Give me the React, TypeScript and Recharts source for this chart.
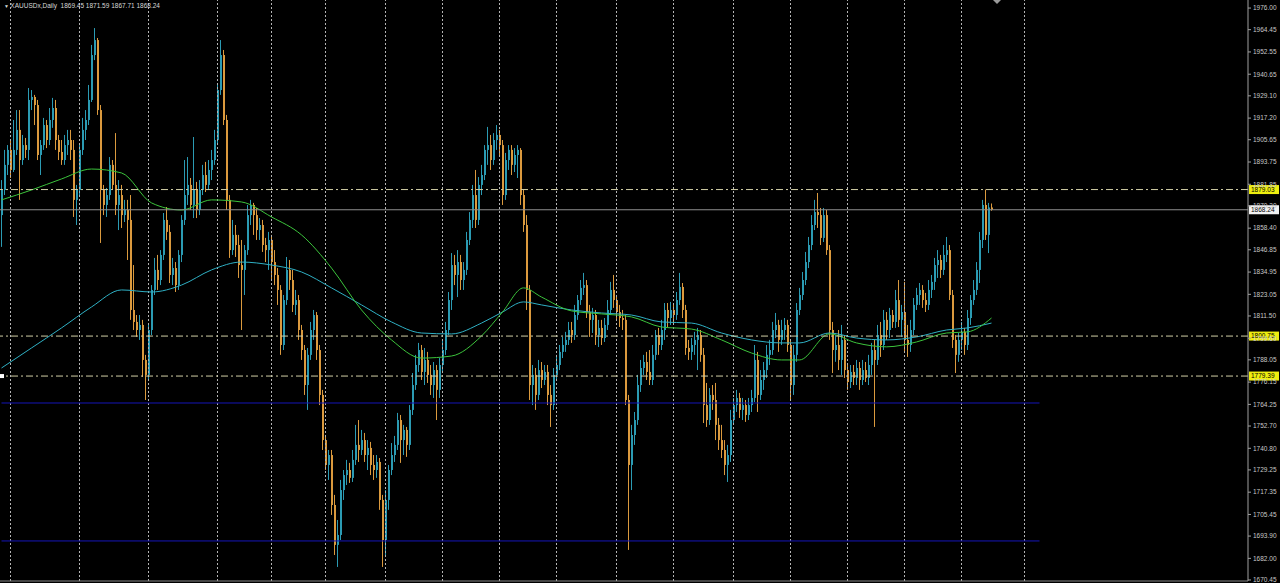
import React from 'react';
import { ComposedChart, Bar, Line, XAxis, YAxis, ReferenceLine } from 'recharts';

// ---------- data ----------
const closes = [
  1878.8, 1892.2, 1900.2, 1889.5, 1900.2, 1910.9, 1894.8, 1902.8, 1900.2, 1926.9,
  1928.5, 1924.2, 1897.5, 1902.8, 1913.5, 1905.5, 1916.2, 1922.6, 1905.5, 1899.1,
  1894.8, 1902.8, 1905.5, 1900.2, 1873.5, 1878.8, 1900.2, 1910.9, 1916.2, 1926.9,
  1950.9, 1958.9, 1921.5, 1878.8, 1870.8, 1876.1, 1892.2, 1881.5, 1870.8, 1876.1,
  1865.4, 1868.1, 1862.8, 1814.7, 1808.3, 1804.0, 1806.7, 1788.0, 1780.0, 1804.0,
  1825.4, 1836.1, 1830.7, 1844.1, 1862.8, 1856.4, 1833.4, 1837.1, 1828.0, 1844.1,
  1862.8, 1876.1, 1881.5, 1870.8, 1878.8, 1868.1, 1878.8, 1886.8, 1881.5, 1889.5,
  1894.8, 1905.5, 1932.2, 1950.9, 1916.2, 1873.5, 1846.7, 1854.8, 1849.4, 1838.7,
  1836.1, 1846.7, 1865.4, 1870.8, 1865.4, 1857.4, 1860.1, 1849.4, 1846.7, 1852.1,
  1840.3, 1833.4, 1825.4, 1796.0, 1820.0, 1836.1, 1830.7, 1817.4, 1820.0, 1804.0,
  1793.3, 1774.6, 1790.7, 1804.0, 1812.0, 1793.3, 1769.3, 1745.2, 1731.9, 1737.2,
  1710.5, 1689.2, 1694.5, 1718.5, 1726.5, 1729.2, 1725.0, 1734.6, 1742.6, 1739.9,
  1745.2, 1737.2, 1741.0, 1731.9, 1729.2, 1733.5, 1713.2, 1691.8, 1713.2, 1729.2,
  1737.2, 1742.6, 1755.9, 1745.2, 1750.6, 1742.6, 1761.3, 1774.6, 1785.3, 1793.3,
  1781.6, 1788.0, 1780.0, 1774.6, 1782.6, 1772.0, 1785.3, 1793.3, 1804.0, 1820.0,
  1838.7, 1833.4, 1840.3, 1830.7, 1836.1, 1852.1, 1862.8, 1876.1, 1862.8, 1881.5,
  1886.8, 1900.2, 1902.8, 1894.8, 1905.5, 1908.2, 1902.8, 1876.1, 1894.8, 1900.2,
  1892.2, 1897.5, 1900.2, 1876.1, 1860.1, 1825.4, 1774.6, 1780.0, 1769.3, 1782.6,
  1777.3, 1781.6, 1769.3, 1763.9, 1780.0, 1785.3, 1792.3, 1796.0, 1798.7, 1804.0,
  1801.3, 1812.0, 1820.0, 1826.5, 1828.0, 1813.6, 1809.4, 1812.0, 1801.3, 1805.1,
  1799.7, 1806.7, 1814.7, 1825.4, 1820.0, 1813.6, 1810.4, 1809.4, 1766.6, 1731.9,
  1747.9, 1755.9, 1774.6, 1783.7, 1786.9, 1781.6, 1777.3, 1790.7, 1801.3, 1796.0,
  1804.0, 1814.7, 1810.4, 1814.7, 1812.0, 1820.0, 1827.0, 1814.7, 1794.4, 1792.3,
  1796.0, 1798.7, 1801.3, 1790.7, 1763.9, 1755.9, 1769.3, 1766.6, 1753.3, 1745.2,
  1739.9, 1731.9, 1737.2, 1755.9, 1763.9, 1767.7, 1761.3, 1763.9, 1758.6, 1763.9,
  1767.7, 1788.0, 1769.3, 1777.3, 1782.6, 1790.7, 1793.3, 1804.0, 1806.7, 1798.7,
  1804.0, 1806.7, 1796.0, 1774.6, 1790.7, 1814.7, 1822.7, 1830.7, 1840.3, 1849.4,
  1860.1, 1867.0, 1865.4, 1853.2, 1865.4, 1846.7, 1804.0, 1793.3, 1796.0, 1788.0,
  1798.7, 1782.6, 1776.2, 1781.6, 1778.4, 1783.7, 1777.3, 1782.6, 1778.4, 1785.3,
  1793.3, 1788.0, 1801.3, 1796.0, 1809.4, 1804.0, 1812.0, 1808.3, 1820.0, 1809.4,
  1813.6, 1798.7, 1796.0, 1804.0, 1817.4, 1822.7, 1825.4, 1820.0, 1817.4, 1825.4,
  1829.7, 1838.7, 1841.4, 1836.1, 1844.1, 1846.7, 1822.7, 1798.7, 1790.7, 1798.7,
  1803.0, 1796.0, 1810.4, 1820.0, 1825.4, 1836.1, 1852.1, 1870.8, 1854.8, 1869.45,
  1868.24,
];

const opens = [
  1865.4, 1878.8, 1892.2, 1900.2, 1889.5, 1900.2, 1910.9, 1894.8, 1902.8, 1900.2,
  1926.9, 1928.5, 1924.2, 1897.5, 1902.8, 1913.5, 1905.5, 1916.2, 1922.6, 1905.5,
  1899.1, 1894.8, 1902.8, 1905.5, 1900.2, 1873.5, 1878.8, 1900.2, 1910.9, 1916.2,
  1926.9, 1950.9, 1958.9, 1921.5, 1878.8, 1870.8, 1876.1, 1892.2, 1881.5, 1870.8,
  1876.1, 1865.4, 1868.1, 1862.8, 1814.7, 1808.3, 1804.0, 1806.7, 1788.0, 1780.0,
  1804.0, 1825.4, 1836.1, 1830.7, 1844.1, 1862.8, 1856.4, 1833.4, 1837.1, 1828.0,
  1844.1, 1862.8, 1876.1, 1881.5, 1870.8, 1878.8, 1868.1, 1878.8, 1886.8, 1881.5,
  1889.5, 1894.8, 1905.5, 1932.2, 1950.9, 1916.2, 1873.5, 1846.7, 1854.8, 1849.4,
  1838.7, 1836.1, 1846.7, 1865.4, 1870.8, 1865.4, 1857.4, 1860.1, 1849.4, 1846.7,
  1852.1, 1840.3, 1833.4, 1825.4, 1796.0, 1820.0, 1836.1, 1830.7, 1817.4, 1820.0,
  1804.0, 1793.3, 1774.6, 1790.7, 1804.0, 1812.0, 1793.3, 1769.3, 1745.2, 1731.9,
  1737.2, 1710.5, 1689.2, 1694.5, 1718.5, 1726.5, 1729.2, 1725.0, 1734.6, 1742.6,
  1739.9, 1745.2, 1737.2, 1741.0, 1731.9, 1729.2, 1733.5, 1713.2, 1691.8, 1713.2,
  1729.2, 1737.2, 1742.6, 1755.9, 1745.2, 1750.6, 1742.6, 1761.3, 1774.6, 1785.3,
  1793.3, 1781.6, 1788.0, 1780.0, 1774.6, 1782.6, 1772.0, 1785.3, 1793.3, 1804.0,
  1820.0, 1838.7, 1833.4, 1840.3, 1830.7, 1836.1, 1852.1, 1862.8, 1876.1, 1862.8,
  1881.5, 1886.8, 1900.2, 1902.8, 1894.8, 1905.5, 1908.2, 1902.8, 1876.1, 1894.8,
  1900.2, 1892.2, 1897.5, 1900.2, 1876.1, 1860.1, 1825.4, 1774.6, 1780.0, 1769.3,
  1782.6, 1777.3, 1781.6, 1769.3, 1763.9, 1780.0, 1785.3, 1792.3, 1796.0, 1798.7,
  1804.0, 1801.3, 1812.0, 1820.0, 1826.5, 1828.0, 1813.6, 1809.4, 1812.0, 1801.3,
  1805.1, 1799.7, 1806.7, 1814.7, 1825.4, 1820.0, 1813.6, 1810.4, 1809.4, 1766.6,
  1731.9, 1747.9, 1755.9, 1774.6, 1783.7, 1786.9, 1781.6, 1777.3, 1790.7, 1801.3,
  1796.0, 1804.0, 1814.7, 1810.4, 1814.7, 1812.0, 1820.0, 1827.0, 1814.7, 1794.4,
  1792.3, 1796.0, 1798.7, 1801.3, 1790.7, 1763.9, 1755.9, 1769.3, 1766.6, 1753.3,
  1745.2, 1739.9, 1731.9, 1737.2, 1755.9, 1763.9, 1767.7, 1761.3, 1763.9, 1758.6,
  1763.9, 1767.7, 1788.0, 1769.3, 1777.3, 1782.6, 1790.7, 1793.3, 1804.0, 1806.7,
  1798.7, 1804.0, 1806.7, 1796.0, 1774.6, 1790.7, 1814.7, 1822.7, 1830.7, 1840.3,
  1849.4, 1860.1, 1867.0, 1865.4, 1853.2, 1865.4, 1846.7, 1804.0, 1793.3, 1796.0,
  1788.0, 1798.7, 1782.6, 1776.2, 1781.6, 1778.4, 1783.7, 1777.3, 1782.6, 1778.4,
  1785.3, 1793.3, 1788.0, 1801.3, 1796.0, 1809.4, 1804.0, 1812.0, 1808.3, 1820.0,
  1809.4, 1813.6, 1798.7, 1796.0, 1804.0, 1817.4, 1822.7, 1825.4, 1820.0, 1817.4,
  1825.4, 1829.7, 1838.7, 1841.4, 1836.1, 1844.1, 1846.7, 1822.7, 1798.7, 1790.7,
  1798.7, 1803.0, 1796.0, 1810.4, 1820.0, 1825.4, 1836.1, 1852.1, 1870.8, 1854.8,
  1869.45,
];

const highs = [
  1884.1, 1900.2, 1902.8, 1905.5, 1916.2, 1921.5, 1921.5, 1908.2, 1906.6, 1933.3,
  1932.2, 1929.6, 1926.9, 1905.5, 1917.3, 1916.2, 1922.6, 1928.0, 1926.9, 1908.2,
  1905.5, 1908.2, 1910.9, 1910.9, 1905.5, 1881.5, 1902.8, 1917.3, 1921.5, 1934.9,
  1956.3, 1965.3, 1960.0, 1924.2, 1881.5, 1879.9, 1896.4, 1894.8, 1909.2, 1884.1,
  1881.5, 1873.5, 1873.5, 1876.1, 1838.7, 1812.0, 1812.0, 1809.4, 1790.7, 1806.7,
  1828.0, 1842.5, 1844.1, 1846.7, 1866.5, 1869.7, 1860.1, 1842.5, 1840.3, 1846.7,
  1865.4, 1894.8, 1896.4, 1885.2, 1907.1, 1883.1, 1884.1, 1892.2, 1893.8, 1894.8,
  1900.2, 1910.9, 1934.9, 1958.9, 1953.6, 1918.9, 1876.1, 1862.8, 1860.1, 1854.8,
  1852.1, 1849.4, 1870.8, 1873.5, 1871.9, 1869.2, 1863.8, 1862.8, 1853.2, 1856.4,
  1854.8, 1846.7, 1837.1, 1828.0, 1822.7, 1843.0, 1841.4, 1836.1, 1825.4, 1822.7,
  1806.7, 1796.0, 1794.4, 1808.3, 1814.7, 1813.6, 1796.0, 1772.0, 1747.9, 1739.9,
  1739.9, 1715.9, 1702.5, 1723.9, 1729.2, 1734.6, 1733.0, 1739.9, 1753.3, 1755.9,
  1750.6, 1749.0, 1745.2, 1744.2, 1737.2, 1737.2, 1735.6, 1715.9, 1718.5, 1731.9,
  1743.6, 1747.4, 1759.7, 1758.6, 1753.3, 1752.2, 1763.9, 1781.0, 1790.7, 1797.1,
  1796.0, 1794.4, 1792.3, 1785.3, 1786.9, 1785.3, 1789.0, 1798.7, 1808.3, 1824.3,
  1845.1, 1844.1, 1846.7, 1844.1, 1840.3, 1856.4, 1867.0, 1881.5, 1889.5, 1885.7,
  1892.2, 1902.8, 1912.5, 1908.2, 1909.2, 1913.5, 1910.9, 1905.5, 1898.6, 1902.8,
  1902.8, 1901.2, 1902.8, 1901.2, 1878.8, 1865.4, 1828.0, 1785.3, 1783.7, 1788.0,
  1786.9, 1785.3, 1785.3, 1774.6, 1783.7, 1790.7, 1796.0, 1800.3, 1803.0, 1808.3,
  1808.3, 1817.4, 1822.7, 1830.7, 1834.5, 1830.7, 1817.4, 1815.8, 1814.7, 1809.4,
  1809.4, 1810.4, 1820.0, 1829.7, 1833.4, 1822.7, 1817.4, 1814.7, 1812.0, 1769.3,
  1753.3, 1760.2, 1780.0, 1788.0, 1790.7, 1792.3, 1793.3, 1796.0, 1804.0, 1805.1,
  1809.4, 1818.4, 1818.4, 1819.0, 1817.4, 1824.3, 1834.5, 1829.1, 1817.4, 1798.7,
  1799.7, 1803.0, 1805.1, 1804.0, 1794.4, 1775.7, 1773.0, 1774.6, 1775.7, 1757.0,
  1753.3, 1745.2, 1742.6, 1761.3, 1767.7, 1772.0, 1770.4, 1767.7, 1766.6, 1767.7,
  1772.0, 1796.0, 1792.3, 1782.6, 1786.9, 1796.0, 1798.7, 1808.3, 1813.1, 1809.4,
  1809.4, 1810.4, 1809.4, 1798.7, 1796.0, 1818.4, 1826.5, 1835.0, 1845.7, 1853.7,
  1865.4, 1873.5, 1877.2, 1869.2, 1869.2, 1868.1, 1849.4, 1808.3, 1801.3, 1804.0,
  1806.7, 1801.3, 1785.3, 1785.3, 1785.3, 1788.0, 1786.9, 1788.0, 1786.9, 1790.7,
  1797.1, 1798.7, 1806.7, 1808.3, 1814.7, 1813.6, 1815.8, 1814.7, 1825.4, 1830.7,
  1817.4, 1829.7, 1806.7, 1809.4, 1821.1, 1826.5, 1829.1, 1828.0, 1823.8, 1830.7,
  1833.4, 1842.5, 1846.7, 1844.1, 1849.4, 1853.7, 1849.4, 1825.4, 1801.3, 1802.4,
  1808.3, 1805.1, 1814.7, 1822.7, 1830.7, 1840.3, 1856.4, 1873.5, 1879.03, 1871.9,
  1871.59,
];

const lows = [
  1848.4, 1876.1, 1886.8, 1885.2, 1888.4, 1897.5, 1873.5, 1892.2, 1895.9, 1894.8,
  1921.5, 1913.5, 1894.8, 1886.8, 1900.2, 1901.2, 1902.8, 1912.0, 1900.2, 1894.8,
  1892.2, 1892.2, 1897.5, 1894.8, 1864.4, 1860.1, 1876.1, 1897.5, 1905.5, 1913.5,
  1925.8, 1948.2, 1918.9, 1850.5, 1865.4, 1864.4, 1873.5, 1878.8, 1865.4, 1857.4,
  1858.5, 1861.7, 1841.4, 1809.4, 1804.0, 1800.3, 1798.7, 1778.9, 1766.6, 1777.3,
  1801.3, 1822.7, 1825.4, 1828.0, 1841.4, 1852.1, 1829.1, 1828.0, 1824.3, 1825.4,
  1840.3, 1860.1, 1870.8, 1868.1, 1863.8, 1863.8, 1865.4, 1876.1, 1877.7, 1878.8,
  1884.1, 1892.2, 1902.8, 1929.6, 1913.5, 1868.1, 1842.5, 1844.1, 1843.0, 1831.8,
  1804.0, 1822.7, 1844.1, 1860.1, 1854.8, 1852.1, 1852.1, 1845.7, 1840.3, 1836.1,
  1830.7, 1828.0, 1817.4, 1790.7, 1793.3, 1817.4, 1825.4, 1813.6, 1812.0, 1798.7,
  1788.0, 1769.3, 1761.3, 1788.0, 1798.7, 1788.0, 1763.9, 1739.9, 1729.2, 1723.9,
  1705.2, 1683.8, 1677.4, 1691.8, 1713.2, 1721.2, 1722.3, 1722.8, 1731.9, 1733.5,
  1737.2, 1733.5, 1729.2, 1726.5, 1723.9, 1725.0, 1707.9, 1677.4, 1683.8, 1707.9,
  1726.5, 1733.5, 1739.9, 1733.0, 1737.2, 1736.2, 1739.9, 1758.6, 1772.0, 1781.6,
  1777.3, 1774.6, 1775.7, 1769.3, 1767.7, 1755.9, 1767.7, 1781.6, 1790.7, 1801.3,
  1814.7, 1828.0, 1821.6, 1825.4, 1825.4, 1833.4, 1849.4, 1858.5, 1858.5, 1860.1,
  1876.1, 1884.1, 1892.2, 1889.5, 1892.2, 1900.2, 1897.5, 1870.8, 1873.5, 1889.5,
  1886.8, 1888.4, 1885.2, 1870.8, 1856.4, 1814.7, 1766.6, 1763.9, 1761.3, 1766.6,
  1773.0, 1774.6, 1763.9, 1752.2, 1761.3, 1777.3, 1782.6, 1789.0, 1792.3, 1796.0,
  1797.1, 1798.7, 1809.4, 1817.4, 1822.7, 1810.4, 1800.3, 1802.4, 1796.0, 1794.9,
  1796.0, 1797.6, 1804.0, 1812.0, 1815.8, 1809.4, 1805.6, 1804.0, 1763.9, 1686.5,
  1718.5, 1742.6, 1753.3, 1770.9, 1780.0, 1777.3, 1774.6, 1774.6, 1788.0, 1790.7,
  1793.3, 1798.7, 1805.6, 1806.7, 1806.7, 1809.4, 1817.4, 1810.4, 1790.7, 1788.0,
  1788.0, 1790.7, 1782.6, 1787.0, 1754.3, 1752.2, 1753.3, 1761.3, 1745.2, 1739.9,
  1735.6, 1726.5, 1722.8, 1733.5, 1753.3, 1760.2, 1757.0, 1755.9, 1754.9, 1755.9,
  1760.2, 1765.5, 1760.2, 1766.6, 1772.0, 1778.4, 1785.3, 1790.7, 1799.7, 1792.3,
  1796.0, 1798.7, 1792.3, 1766.6, 1769.3, 1787.0, 1812.0, 1820.0, 1828.0, 1837.1,
  1846.7, 1857.4, 1858.5, 1849.4, 1851.0, 1844.1, 1798.7, 1781.0, 1787.0, 1782.6,
  1780.0, 1778.4, 1772.0, 1773.0, 1774.6, 1774.6, 1772.0, 1774.6, 1776.2, 1774.6,
  1780.0, 1752.2, 1785.3, 1789.6, 1793.3, 1798.7, 1799.7, 1805.1, 1805.1, 1805.6,
  1800.3, 1791.7, 1789.6, 1792.3, 1801.3, 1814.7, 1817.4, 1815.8, 1813.6, 1814.7,
  1821.1, 1825.4, 1831.8, 1831.8, 1833.4, 1840.3, 1820.0, 1794.4, 1781.0, 1787.0,
  1793.3, 1790.7, 1793.3, 1806.7, 1817.4, 1822.7, 1829.1, 1847.8, 1852.1, 1845.1,
  1867.71,
];

// moving averages, read at sampled bars
const maBars = [0, 10, 20, 30, 40, 50, 60, 70, 80, 90, 100, 110, 120, 130, 140, 150, 160, 167, 174, 180,
  190, 200, 210, 220, 230, 240, 250, 260, 266, 276, 285, 295, 305, 315, 322, 330];
const maFast = [1873.5, 1878.8, 1884.7, 1890.0, 1887.9, 1871.9, 1868.1, 1873.5, 1872.4, 1864.4,
  1854.8, 1837.1, 1814.7, 1798.7, 1789.0, 1790.1, 1800.8, 1813.6, 1826.5, 1821.6,
  1814.2, 1812.6, 1811.0, 1805.6, 1804.5, 1798.7, 1791.7, 1788.0, 1788.0, 1801.9,
  1797.1, 1795.0, 1797.6, 1802.4, 1803.0, 1810.4];
const maSlow = [1783.7, 1794.4, 1805.1, 1816.3, 1825.4, 1824.3, 1828.0, 1836.1, 1840.3, 1838.7,
  1835.0, 1826.5, 1817.4, 1808.3, 1802.4, 1801.9, 1807.7, 1813.6, 1819.0, 1817.4,
  1814.7, 1813.1, 1812.0, 1808.3, 1807.7, 1802.4, 1798.7, 1797.1, 1797.1, 1802.4,
  1799.7, 1798.7, 1800.3, 1804.0, 1805.1, 1807.7];

const priceTicks = [1976.00, 1964.45, 1952.55, 1940.65, 1929.10, 1917.20, 1905.65, 1893.75, 1881.85,
  1870.30, 1858.40, 1846.85, 1834.95, 1823.05, 1811.50, 1799.60, 1788.05, 1776.15, 1764.25,
  1752.70, 1740.80, 1729.25, 1717.35, 1705.45, 1693.90, 1682.00, 1670.45];

const separatorBars = [3, 26, 49, 72, 90, 108, 128, 147, 166, 185, 205, 224, 244, 263, 282, 301, 320, 341];

const levelPrices = [1879.03, 1800.75, 1779.39];
const bidPrice = 1868.24;
const bluePrices = [1765.0, 1691.3];
const blueEndBar = 346;

const symbolTitle = 'XAUUSDx,Daily';
const lastQuote = ['1869.45', '1871.59', '1867.71', '1868.24'];

const TOTAL_SLOTS = 416;
const Y_MIN = 1669.9;
const Y_MAX = 1980.3;

const BULL = '#2b9bb3';
const BEAR = '#db9a3e';

const data = Array.from({ length: TOTAL_SLOTS }, (_, i) => {
  const row: any = { i };
  if (i < closes.length) {
    row.o = opens[i];
    row.h = highs[i];
    row.l = lows[i];
    row.c = closes[i];
    row.range = [lows[i], highs[i]];
  }
  const k = maBars.indexOf(i);
  if (k >= 0) {
    row.fast = maFast[k];
    row.slow = maSlow[k];
  }
  return row;
});

const Candle = (props: any) => {
  const { x, y, width, height, payload } = props;
  if (!payload || payload.h == null || x == null || isNaN(y)) return null;
  const top = Math.min(y, y + height);
  const h = Math.abs(height);
  const span = payload.h - payload.l;
  const toY = (v: number) => (span > 0 ? top + ((payload.h - v) / span) * h : top);
  const up = payload.c >= payload.o;
  const color = up ? BULL : BEAR;
  const bx = Math.round(x + width / 2 - 1);
  const y1 = toY(Math.max(payload.o, payload.c));
  const y2 = toY(Math.min(payload.o, payload.c));
  return (
    <g>
      <line x1={bx + 0.5} x2={bx + 0.5} y1={top} y2={top + h} stroke={color} strokeWidth={1} />
      <rect x={bx} y={y1} width={2} height={Math.max(1, y2 - y1)} fill={color} />
    </g>
  );
};

const PriceBox = (props: any) => {
  const { viewBox, text, bg, marker } = props;
  if (!viewBox) return null;
  const right = viewBox.x + viewBox.width;
  const cy = viewBox.y;
  return (
    <g>
      {marker ? <rect x={viewBox.x} y={cy - 2} width={4} height={4} fill="#ffffff" /> : null}
      <rect x={right + 1} y={cy - 4.5} width={30} height={9} fill={bg} />
      <text x={right + 3} y={cy + 2.4} fontSize={6.5} fontFamily="Liberation Sans, Arial, sans-serif" fill="#000">
        {text}
      </text>
    </g>
  );
};

export default function App() {
  return (
    <div style={{ position: 'absolute', left: 0, top: 0, width: 1280, height: 583, background: '#000', overflow: 'hidden' }}>
      <ComposedChart width={1280} height={583} data={data} margin={{ top: 0, right: 0, bottom: 0, left: 0 }} barCategoryGap={0}>
        <XAxis dataKey="i" type="category" height={2} tick={false} tickLine={false} axisLine={{ stroke: '#8a8a8a' }} />
        <YAxis
          orientation="right"
          width={32}
          type="number"
          domain={[Y_MIN, Y_MAX]}
          allowDataOverflow
          ticks={priceTicks}
          interval={0}
          tickSize={3}
          tickLine={{ stroke: '#a0a0a0' }}
          axisLine={{ stroke: '#a0a0a0' }}
          tick={{ fill: '#c8c8c8', fontSize: 6.5, fontFamily: 'Liberation Sans, Arial, sans-serif' }}
          tickFormatter={(v: number) => v.toFixed(2)}
        />
        {separatorBars.map((b) => (
          <ReferenceLine key={'sep' + b} x={b} stroke="#b4b4b4" strokeDasharray="2 2" strokeWidth={1} />
        ))}
        {bluePrices.map((p) => (
          <ReferenceLine
            key={'blue' + p}
            segment={[{ x: 0, y: p }, { x: blueEndBar, y: p }]}
            stroke="#1515b8"
            strokeWidth={1}
          />
        ))}
        <Bar dataKey="range" barSize={2} isAnimationActive={false} activeBar={false} shape={(p: any) => <Candle {...p} />} />
        <Line dataKey="slow" type="monotone" stroke="#2fb0c4" strokeWidth={1} dot={false} activeDot={false} connectNulls isAnimationActive={false} />
        <Line dataKey="fast" type="monotone" stroke="#3cc43c" strokeWidth={1} dot={false} activeDot={false} connectNulls isAnimationActive={false} />
        <ReferenceLine
          y={bidPrice}
          stroke="#8e8e8e"
          strokeWidth={1}
          label={<PriceBox text={bidPrice.toFixed(2)} bg="#f2f2f2" />}
        />
        {levelPrices.map((p, k) => (
          <ReferenceLine
            key={'lvl' + p}
            y={p}
            stroke="#d2cfa6"
            strokeWidth={1}
            strokeDasharray="7 3 2 3"
            label={<PriceBox text={p.toFixed(2)} bg="#eeee10" marker={k === levelPrices.length - 1} />}
          />
        ))}
      </ComposedChart>
      <div
        style={{
          position: 'absolute',
          left: 4,
          top: 1,
          fontFamily: 'Liberation Sans, Arial, sans-serif',
          fontSize: 6.5,
          color: '#d8d8d8',
          whiteSpace: 'pre',
          lineHeight: '9px',
        }}
      >
        <span style={{ fontSize: 5 }}>▼ </span>
        {symbolTitle + '  ' + lastQuote.join(' ')}
      </div>
      <svg style={{ position: 'absolute', left: 993, top: 0 }} width={10} height={5}>
        <polygon points="0,0 8,0 4,4" fill="#9a9a9a" />
      </svg>
    </div>
  );
}
